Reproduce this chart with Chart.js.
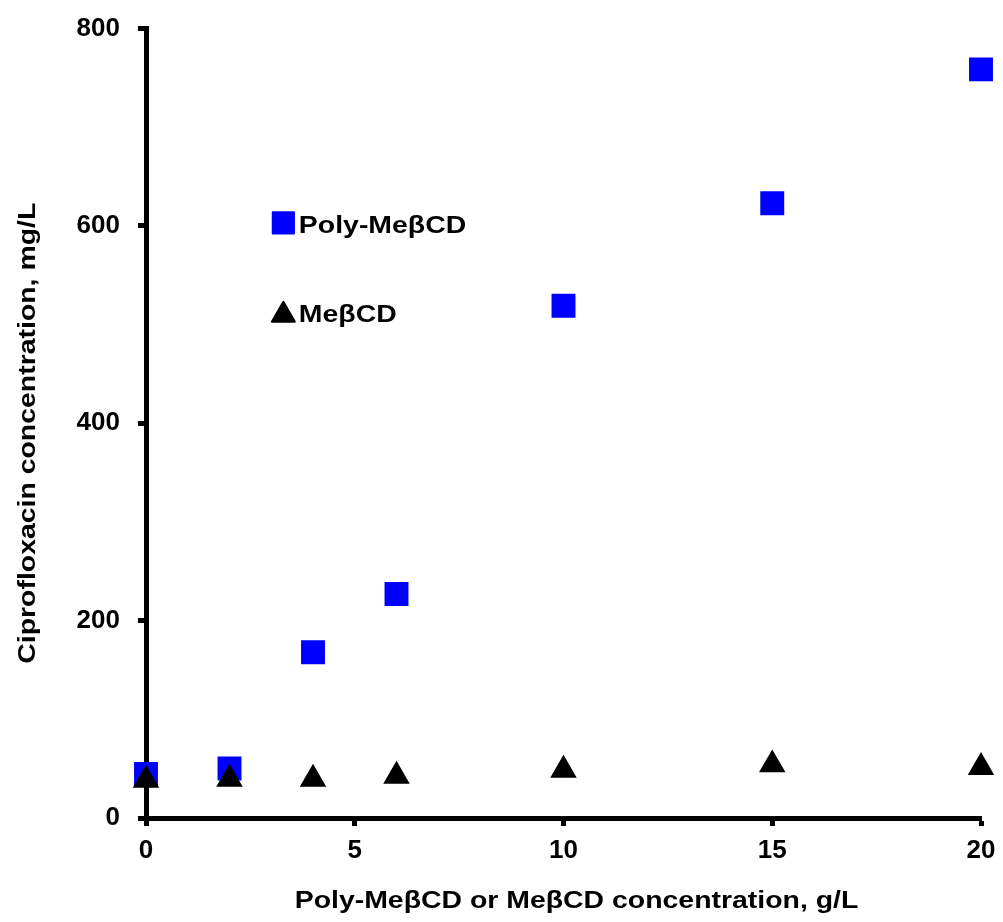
<!DOCTYPE html>
<html>
<head>
<meta charset="utf-8">
<script src="https://cdn.jsdelivr.net/npm/chart.js@4/dist/chart.umd.min.js"></script>
<style>
  html, body { margin: 0; padding: 0; background: #fff; }
  #wrap { width: 1003px; height: 922px; position: relative; }
</style>
</head>
<body>
<div id="wrap"><canvas id="chart" width="1003" height="922"></canvas></div>
<script>
const concentrations = [0, 2, 4, 6, 10, 15, 20];
const polyMebcd = [44.6, 50.2, 168, 227, 519, 623, 758.6];
const mebcd = [38.5, 39.5, 39.5, 42.5, 48.5, 54, 51.4];
const xTicks = [0, 5, 10, 15, 20];
const yTicks = [0, 200, 400, 600, 800];
const xTitle = 'Poly-MeβCD or MeβCD concentration, g/L';
const yTitle = 'Ciprofloxacin concentration, mg/L';

const FONT = "'Liberation Sans', Arial, sans-serif";
const LABEL_FONT = `bold 24.5px ${FONT}`;
const STRETCH = 1.16; // the original text is drawn a little wide

const toPoints = (values) => values.map((y, i) => ({ x: concentrations[i], y }));

// legend sits inside the plot, anchored in data units
const legendItems = [
  { label: 'Poly-MeβCD', style: 'rect', color: '#0000ff', radius: 15, at: { x: 3.29, y: 603 }, textDy: 10 },
  { label: 'MeβCD', style: 'triangle', color: '#000000', radius: 13.3, at: { x: 3.29, y: 509.6 }, textDy: 7 },
];

function stretchedText(ctx, text, x, y, angle) {
  ctx.save();
  ctx.translate(x, y);
  if (angle) ctx.rotate(angle);
  ctx.scale(STRETCH, 1);
  ctx.fillText(text, 0, 0);
  ctx.restore();
}

const annotations = {
  id: 'annotations',
  afterDraw(chart) {
    const { ctx, scales, chartArea } = chart;
    ctx.save();
    ctx.font = LABEL_FONT;
    ctx.textBaseline = 'alphabetic';

    legendItems.forEach((item) => {
      const px = scales.x.getPixelForValue(item.at.x);
      const py = scales.y.getPixelForValue(item.at.y);
      ctx.fillStyle = item.color;
      ctx.strokeStyle = item.color;
      ctx.lineWidth = 2;
      ctx.lineJoin = 'round';
      Chart.helpers.drawPoint(ctx, { pointStyle: item.style, radius: item.radius, borderWidth: 2 }, px, py);
      ctx.fillStyle = '#000';
      ctx.textAlign = 'left';
      stretchedText(ctx, item.label, px + 15.5, py + item.textDy, 0);
    });

    ctx.fillStyle = '#000';
    ctx.textAlign = 'center';
    const midX = (chartArea.left + chartArea.right) / 2 + 13;
    stretchedText(ctx, xTitle, midX, chartArea.bottom + 90, 0);
    const midY = (chartArea.top + chartArea.bottom) / 2 + 10;
    stretchedText(ctx, yTitle, 35, midY, -Math.PI / 2);
    ctx.restore();
  },
};

const axisStyle = {
  border: { display: true, color: '#000', width: 5 },
  grid: { display: true, drawOnChartArea: false, drawTicks: true, tickLength: 8, tickWidth: 5, tickColor: '#000' },
};

new Chart(document.getElementById('chart'), {
  type: 'scatter',
  data: {
    datasets: [
      {
        label: 'MeβCD',
        data: toPoints(mebcd),
        pointStyle: 'triangle',
        pointRadius: 13.3,
        pointHoverRadius: 13.3,
        backgroundColor: '#000',
        borderColor: '#000',
        borderWidth: 2,
        clip: false,
        order: 0,
      },
      {
        label: 'Poly-MeβCD',
        data: toPoints(polyMebcd),
        pointStyle: 'rect',
        pointRadius: 15.5,
        pointHoverRadius: 15.5,
        backgroundColor: '#0000ff',
        borderColor: '#0000ff',
        borderWidth: 2,
        clip: false,
        order: 1,
      },
    ],
  },
  options: {
    responsive: false,
    animation: false,
    elements: { point: { borderJoinStyle: 'round' } },
    layout: { autoPadding: false, padding: { left: 0, right: 22, top: 28.5, bottom: 0 } },
    plugins: {
      legend: { display: false },
      tooltip: { enabled: false },
    },
    scales: {
      x: {
        type: 'linear',
        min: 0,
        max: 20,
        afterBuildTicks: (axis) => { axis.ticks = xTicks.map((v) => ({ value: v })); },
        afterFit: (axis) => { axis.height = 104; axis.paddingLeft = 0; axis.paddingRight = 0; },
        ...axisStyle,
        ticks: { color: '#000', font: { family: FONT, size: 26, weight: 'bold' }, padding: 9, maxRotation: 0 },
      },
      y: {
        type: 'linear',
        min: 0,
        max: 800,
        afterBuildTicks: (axis) => { axis.ticks = yTicks.map((v) => ({ value: v })); },
        afterFit: (axis) => { axis.width = 146; axis.paddingTop = 0; axis.paddingBottom = 0; },
        ...axisStyle,
        ticks: { color: '#000', font: { family: FONT, size: 26, weight: 'bold' }, padding: 18 },
      },
    },
  },
  plugins: [annotations],
});
</script>
</body>
</html>
